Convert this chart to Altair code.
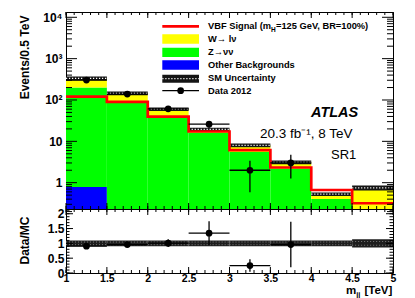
import altair as alt
import pandas as pd

# ---------------- data ----------------
bin_lo = [1.0, 1.5, 2.0, 2.5, 3.0, 3.5, 4.0, 4.5]
bin_hi = [1.5, 2.0, 2.5, 3.0, 3.5, 4.0, 4.5, 5.0]
other_bkg = [0.79, 0.1, 0.1, 0.05, 0.02, 0.01, 0.005, 0.005]
z_nunu = [199.0, 95.0, 41.0, 16.0, 5.5, 2.2, 0.40, 0.12]
w_lnu = [135.0, 50.0, 19.0, 3.4, 2.5, 0.9, 0.125, 0.625]
vbf_signal = [120.0, 90.0, 39.6, 17.3, 6.1, 2.33, 0.665, 0.318]
mc_rel_unc = [0.10, 0.10, 0.10, 0.10, 0.10, 0.10, 0.10, 0.14]

data_lo = [1.0, 1.5, 2.0, 2.5, 3.0, 3.5]
data_hi = [1.5, 2.0, 2.5, 3.0, 3.5, 4.0]
data_x = [1.25, 1.75, 2.25, 2.75, 3.25, 3.75]
data_n = [303, 139, 61, 26, 2, 3]
data_err = [17.4, 11.8, 7.8, 5.1, 1.41, 1.73]
ratio_val = [0.905, 0.96, 1.007, 1.345, 0.25, 0.96]
ratio_err = [0.05, 0.08, 0.13, 0.40, 0.21, 0.77]

proc_names = ["Other Backgrounds", "Z→νν", "W→ lν"]
proc_colors = ["#0000ff", "#00ff00", "#ffff00"]
legend_labels = ["VBF Signal (m", "H", "=125 GeV, BR=100%)", "W→ lν", "Z→νν",
                 "Other Backgrounds", "SM Uncertainty", "Data 2012"]

y_major = [1, 10, 100, 1000, 10000]
y_labels = {1: "1", 10: "10", 100: "10²", 1000: "10³", 10000: "10⁴"}
y_minor = [k * 10 ** e for e in range(-1, 4) for k in range(2, 10)]
x_major = [1, 1.5, 2, 2.5, 3, 3.5, 4, 4.5, 5]
x_minor = [round(1 + 0.1 * i, 2) for i in range(41)]
r_major = [0, 0.5, 1, 1.5, 2]
r_minor = [round(0.1 * i, 2) for i in range(22)]

# ---------------- layout / style ----------------
W, H1, H2 = 327, 197, 64
YMIN, YMAX = 0.231, 13430
RMIN, RMAX = 0.0, 2.16
FONT = "Liberation Sans"

xs = alt.Scale(domain=[1, 5], nice=False, zero=False)
ys = alt.Scale(type="log", domain=[YMIN, YMAX], nice=False)
rs = alt.Scale(domain=[RMIN, RMAX], nice=False, zero=False)

label_expr = " : ".join(
    f"datum.value == {k} ? '{v}'" for k, v in y_labels.items()) + " : ''"

AX_Y_TOP = alt.Axis(values=y_major, labelExpr=label_expr, ticks=False, domain=False,
                    grid=False, labelPadding=4, labelFontSize=12, labelFontWeight="bold",
                    title="Events/0.5 TeV", titleFontSize=12, titleFontWeight="bold",
                    titleX=-42, titleY=3, titleAlign="right", titleAngle=-90,
                    titleBaseline="middle")
AX_Y_BOT = alt.Axis(values=r_major, format="~g", ticks=False, domain=False, grid=False,
                    labelPadding=2, labelFontSize=12, labelFontWeight="bold",
                    title="Data/MC", titleFontSize=12, titleFontWeight="bold",
                    titleX=-42, titleY=31, titleAlign="center", titleAngle=-90,
                    titleBaseline="middle")
AX_X_BOT = alt.Axis(values=x_major, format="~g", ticks=False, domain=False, grid=False,
                    labelPadding=0, labelFontSize=10.5, labelFontWeight="bold",
                    labelFlush=False, labelOverlap=False, title=None)

# panel encoders (same axis object on every layer so they merge cleanly)
def tx(f):
    return alt.X(f, scale=xs, axis=None)

def ty(f):
    return alt.Y(f, scale=ys, axis=AX_Y_TOP)

def bx(f):
    return alt.X(f, scale=xs, axis=AX_X_BOT)

def by(f):
    return alt.Y(f, scale=rs, axis=AX_Y_BOT)

# ---------------- tables ----------------
rows = []
for i in range(len(bin_lo)):
    cum = 0.0
    for name, vals in zip(proc_names, [other_bkg, z_nunu, w_lnu]):
        lo = max(cum, 1e-3)
        cum += vals[i]
        rows.append({"lo": bin_lo[i], "hi": bin_hi[i], "y0": lo, "y1": cum, "proc": name})
stack_df = pd.DataFrame(rows)

tot = [o + z + w for o, z, w in zip(other_bkg, z_nunu, w_lnu)]
band_df = pd.DataFrame({
    "lo": bin_lo, "hi": bin_hi, "tot": tot,
    "b0": [t * (1 - e) for t, e in zip(tot, mc_rel_unc)],
    "b1": [t * (1 + e) for t, e in zip(tot, mc_rel_unc)],
    "r0": [1 - e for e in mc_rel_unc], "r1": [1 + e for e in mc_rel_unc],
    "rd0": [1 - 0.45 * e for e in mc_rel_unc], "rd1": [1 + 0.45 * e for e in mc_rel_unc],
})
sig_df = pd.DataFrame({"x": bin_lo + [bin_hi[-1]], "y": vbf_signal + [vbf_signal[-1]]})
data_df = pd.DataFrame({
    "x": data_x, "lo": data_lo, "hi": data_hi, "n": data_n,
    "e0": [n - e for n, e in zip(data_n, data_err)],
    "e1": [n + e for n, e in zip(data_n, data_err)],
    "r": ratio_val,
    "re0": [r - e for r, e in zip(ratio_val, ratio_err)],
    "re1": [r + e for r, e in zip(ratio_val, ratio_err)],
})
one = pd.DataFrame({"a": [0]})


def ticks(vals, side, length, xenc, yenc, h):
    base = alt.Chart(pd.DataFrame({"t": vals})).mark_rule(color="black", strokeWidth=1)
    if side == "left":
        return base.encode(y=yenc("t:Q"), x=alt.value(0), x2=alt.value(length))
    if side == "right":
        return base.encode(y=yenc("t:Q"), x=alt.value(W), x2=alt.value(W - length))
    if side == "top":
        return base.encode(x=xenc("t:Q"), y=alt.value(0), y2=alt.value(length))
    return base.encode(x=xenc("t:Q"), y=alt.value(h), y2=alt.value(h - length))


def vtext(x, y, text, size, weight="bold", style="normal", baseline="middle", align="left"):
    return alt.Chart(one).mark_text(text=text, font=FONT, fontSize=size, fontWeight=weight,
                                    fontStyle=style, baseline=baseline, align=align,
                                    color="black").encode(x=alt.value(x), y=alt.value(y))


def vrect(x1, x2, y1, y2, color):
    return alt.Chart(one).mark_rect(color=color).encode(
        x=alt.value(x1), x2=alt.value(x2), y=alt.value(y1), y2=alt.value(y2))


def vrule(x1, x2, y, color, width, dash=None):
    kw = {"strokeDash": dash} if dash else {}
    return alt.Chart(one).mark_rule(color=color, strokeWidth=width, **kw).encode(
        x=alt.value(x1), x2=alt.value(x2), y=alt.value(y))


# ---------------- top panel ----------------
stack = alt.Chart(stack_df).mark_rect(clip=True).encode(
    x=tx("lo:Q"), x2="hi:Q", y=ty("y0:Q"), y2="y1:Q",
    color=alt.Color("proc:N", scale=alt.Scale(domain=proc_names, range=proc_colors), legend=None),
)
band = alt.Chart(band_df).mark_rect(color="#151515", clip=True).encode(
    x=tx("lo:Q"), x2="hi:Q", y=ty("b0:Q"), y2="b1:Q")
band_dots = alt.Chart(band_df).mark_rule(color="white", strokeWidth=1.2, strokeDash=[1.2, 1.8],
                                         clip=True).encode(
    x=tx("lo:Q"), x2="hi:Q", y=ty("tot:Q"))
signal = alt.Chart(sig_df).mark_line(interpolate="step-after", color="#ff0000", strokeWidth=2.7,
                                     clip=True).encode(x=tx("x:Q"), y=ty("y:Q"))
d_h = alt.Chart(data_df).mark_rule(color="black", strokeWidth=1.3).encode(
    x=tx("lo:Q"), x2="hi:Q", y=ty("n:Q"))
d_v = alt.Chart(data_df).mark_rule(color="black", strokeWidth=1.3).encode(
    x=tx("x:Q"), y=ty("e0:Q"), y2="e1:Q")
d_p = alt.Chart(data_df).mark_circle(color="black", size=45, opacity=1).encode(
    x=tx("x:Q"), y=ty("n:Q"))

LX0, LX1, TX = 96.3, 133.0, 142.0
legend = [
    vrule(LX0, LX1, 14.3, "#ff0000", 2.7),
    vrect(LX0, LX1, 22.3, 31.7, proc_colors[2]),
    vrect(LX0, LX1, 35.7, 45.0, proc_colors[1]),
    vrect(LX0, LX1, 48.3, 57.7, proc_colors[0]),
    vrect(LX0, LX1, 62.7, 70.7, "#151515"),
    vrule(LX0, LX1, 66.7, "white", 1.2, [1.2, 1.8]),
    vrule(LX0, LX1, 78.7, "black", 1.3),
    alt.Chart(one).mark_circle(color="black", size=45, opacity=1).encode(
        x=alt.value((LX0 + LX1) / 2), y=alt.value(78.7)),
    vtext(TX, 14.3, legend_labels[0], 9.3),
    vtext(TX + 63.0, 17.5, legend_labels[1], 6.5),
    vtext(TX + 68.0, 14.3, legend_labels[2], 9.3),
    vtext(TX, 26.7, legend_labels[3], 9.3),
    vtext(TX, 40.0, legend_labels[4], 9.3),
    vtext(TX, 52.7, legend_labels[5], 9.3),
    vtext(TX, 65.7, legend_labels[6], 9.3),
    vtext(TX, 78.7, legend_labels[7], 9.3),
    vtext(245, 105, "ATLAS", 14.5, weight="bold", style="italic", baseline="alphabetic"),
    vtext(194, 125.5, "20.3 fb⁻¹, 8 TeV", 13.5, weight="normal", baseline="alphabetic"),
    vtext(265, 147, "SR1", 13, weight="normal", baseline="alphabetic"),
]

top_ticks = [
    ticks(y_major, "left", 11, tx, ty, H1), ticks(y_minor, "left", 6, tx, ty, H1),
    ticks(y_major, "right", 11, tx, ty, H1), ticks(y_minor, "right", 6, tx, ty, H1),
    ticks(x_major, "top", 6, tx, ty, H1), ticks(x_minor, "top", 3, tx, ty, H1),
    ticks(x_major, "bottom", 6, tx, ty, H1), ticks(x_minor, "bottom", 3, tx, ty, H1),
]

top = alt.layer(stack, band, band_dots, signal, *top_ticks, d_h, d_v, d_p, *legend).properties(
    width=W, height=H1)

# ---------------- ratio panel ----------------
r_band = alt.Chart(band_df).mark_rect(color="#1e1e1e").encode(
    x=bx("lo:Q"), x2="hi:Q", y=by("r0:Q"), y2="r1:Q")
r_dots = [
    alt.Chart(band_df).mark_rule(color="#7a7a7a", strokeWidth=1, strokeDash=[1, 2]).encode(
        x=bx("lo:Q"), x2="hi:Q", y=by(f"{c}:Q"))
    for c in ["rd0", "rd1"]
]
r_h = alt.Chart(data_df).mark_rule(color="black", strokeWidth=1.3).encode(
    x=bx("lo:Q"), x2="hi:Q", y=by("r:Q"))
r_v = alt.Chart(data_df).mark_rule(color="black", strokeWidth=1.3, clip=True).encode(
    x=bx("x:Q"), y=by("re0:Q"), y2="re1:Q")
r_p = alt.Chart(data_df).mark_circle(color="black", size=45, opacity=1).encode(
    x=bx("x:Q"), y=by("r:Q"))

bot_ticks = [
    ticks(r_major, "left", 7, bx, by, H2), ticks(r_minor, "left", 3.5, bx, by, H2),
    ticks(r_major, "right", 7, bx, by, H2), ticks(r_minor, "right", 3.5, bx, by, H2),
    ticks(x_major, "top", 6, bx, by, H2), ticks(x_minor, "top", 3, bx, by, H2),
    ticks(x_major, "bottom", 6, bx, by, H2), ticks(x_minor, "bottom", 3, bx, by, H2),
]
x_title = [
    vtext(280.0, 85, "m", 11.5, baseline="alphabetic"),
    vtext(290.2, 88, "jj", 7.5, baseline="alphabetic"),
    vtext(326.3, 85, "[TeV]", 11.5, baseline="alphabetic", align="right"),
]

bottom = alt.layer(r_band, *r_dots, *bot_ticks, r_h, r_v, r_p, *x_title).properties(
    width=W, height=H2)

chart = alt.vconcat(top, bottom, spacing=0, bounds="flush").properties(
    padding={"left": 9, "top": 2, "right": 5, "bottom": 0}
).configure_view(stroke="black", strokeWidth=1).configure_axis(
    labelFont=FONT, titleFont=FONT, labelColor="black", titleColor="black")

chart.save("out.html", embed_options={"renderer": "svg", "actions": False})
